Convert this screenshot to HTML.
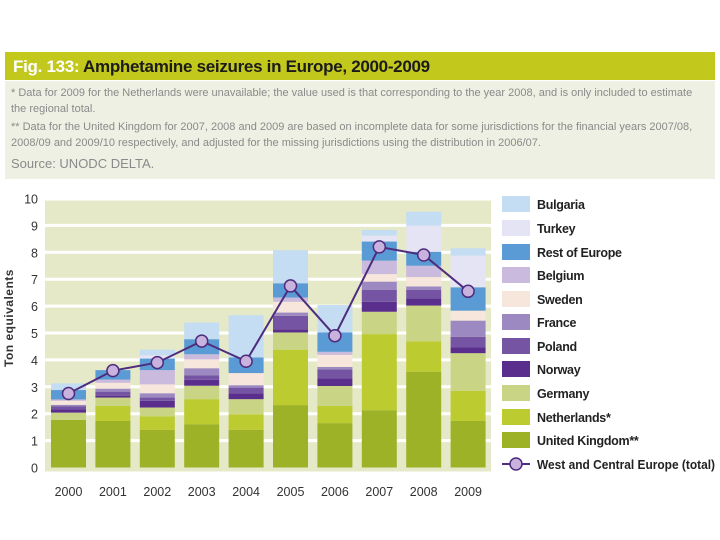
<!DOCTYPE html>
<html><head><meta charset="utf-8">
<style>
body{margin:0;width:720px;height:540px;background:#fff;font-family:"Liberation Sans",sans-serif;overflow:hidden;position:relative}
#hdr{position:absolute;left:5px;top:52px;width:710px;height:28px;background:#c3c81d}
#hdr span{position:absolute;left:8px;top:5px;font-size:17px;font-weight:bold;color:#1b1b1b;letter-spacing:-0.3px}
#notes{position:absolute;left:5px;top:81px;width:710px;height:98px;background:#eef0e3;color:#8a8a8a;font-size:11px;line-height:16px}
</style></head><body>
<div id="hdr"><span><span style="position:static;color:#fff">Fig. 133:</span> Amphetamine seizures in Europe, 2000-2009</span></div>
<div id="notes">
<div style="position:absolute;left:6px;top:4px;width:690px">* Data for 2009 for the Netherlands were unavailable; the value used is that corresponding to the year 2008, and is only included to estimate the regional total.</div>
<div style="position:absolute;left:6px;top:38px;width:690px">** Data for the United Kingdom for 2007, 2008 and 2009 are based on incomplete data for some jurisdictions for the financial years 2007/08, 2008/09 and 2009/10 respectively, and adjusted for the missing jurisdictions using the distribution in 2006/07.</div>
<div style="position:absolute;left:6px;top:75px;font-size:13px">Source: UNODC DELTA.</div>
</div>
<svg id="chart" width="720" height="540" style="position:absolute;left:0;top:0"></svg>
<script>
const years=["2000","2001","2002","2003","2004","2005","2006","2007","2008","2009"];
const seriesNames=["United Kingdom**","Netherlands*","Germany","Norway","Poland","France","Sweden","Belgium","Rest of Europe","Turkey","Bulgaria"];
const uk=[1.77,1.73,1.4,1.61,1.4,2.32,1.65,2.13,3.56,1.73];
const netherlands=[0,0.56,0.5,0.93,0.58,2.06,0.64,2.83,1.13,1.12];
const germany=[0.27,0.31,0.33,0.5,0.56,0.64,0.74,0.83,1.33,1.4];
const norway=[0.12,0.06,0.25,0.22,0.22,0.12,0.29,0.37,0.27,0.21];
const poland=[0.12,0.16,0.12,0.17,0.21,0.5,0.33,0.45,0.32,0.4];
const france=[0.05,0.11,0.16,0.26,0.09,0.12,0.09,0.3,0.12,0.6];
const sweden=[0.15,0.22,0.33,0.33,0.45,0.4,0.45,0.28,0.35,0.37];
const belgium=[0.05,0.12,0.53,0.19,0,0.16,0.11,0.5,0.42,0];
const restEurope=[0.35,0.35,0.43,0.56,0.58,0.53,0.72,0.71,0.52,0.87];
const turkey=[0,0,0.12,0,0,0,0,0.22,0.97,1.18];
const bulgaria=[0.25,0,0.21,0.62,1.57,1.23,1.02,0.21,0.52,0.27];
const totalWCE=[2.75,3.6,3.9,4.7,3.95,6.75,4.9,8.2,7.9,6.55];
const yTicks=[0,1,2,3,4,5,6,7,8,9,10];
const series=[uk,netherlands,germany,norway,poland,france,sweden,belgium,restEurope,turkey,bulgaria];
const colors=["#9eb227","#bccb2f","#c9d585","#5a2e8c","#7554a4","#9d89c2","#f6e6db","#cabadd","#5b9bd5","#e4e4f4","#c4ddf3"];
const slugs=["uk","netherlands","germany","norway","poland","france","sweden","belgium","rest-of-europe","turkey","bulgaria"];
const NS="http://www.w3.org/2000/svg";
const svg=document.getElementById("chart");
const y0=467.5,pu=26.9,x0=68.5,dx=44.4,bw=35;
const Y=v=>y0-v*pu, X=i=>x0+i*dx;
function mk(t,a,p){const e=document.createElementNS(NS,t);for(const k in a)e.setAttribute(k,a[k]);(p||svg).appendChild(e);return e;}
const bg=mk("rect",{x:45,y:Y(10)+2,width:446,height:Y(0)-Y(10)+2,fill:"#e6e9c8"});


yTicks.forEach(t=>{
 if(t>0&&t<10){const g=mk("line",{x1:45,x2:491,y1:Y(t),y2:Y(t),stroke:"#fff","stroke-width":3});
 
 }
 const l=mk("text",{x:38,y:Y(t)+5,"text-anchor":"end","font-size":12.5,fill:"#333"});l.textContent=t;
 
 
});
const yt=mk("text",{x:0,y:0,transform:"translate(13,318) rotate(-90)","text-anchor":"middle","font-size":12,"font-weight":"bold",fill:"#333","letter-spacing":"0.5"});yt.textContent="Ton equivalents";


years.forEach((yr,i)=>{
 let c=0;
 series.forEach((s,k)=>{const v=s[i];if(v>0){const r=mk("rect",{x:X(i)-bw/2,y:Y(c+v),width:bw,height:v*pu,fill:colors[k]});
 
 }c+=v;});
 const t=mk("text",{x:X(i),y:496,"text-anchor":"middle","font-size":12.5,fill:"#333"});t.textContent=yr;
 
 
});
const pl=mk("polyline",{points:totalWCE.map((v,i)=>X(i)+","+Y(v)).join(" "),fill:"none",stroke:"#4e2c7e","stroke-width":2});


totalWCE.forEach((v,i)=>{const c=mk("circle",{cx:X(i),cy:Y(v),r:6,fill:"#c9b3de",stroke:"#4e2c7e","stroke-width":1.5});
 
 });
// legend
const legY=[204,228,252,275,299,322,346,369,393,417,440];
for(let k=0;k<11;k++){
 const idx=10-k;const yy=legY[k];
 const r=mk("rect",{x:502,y:yy-8,width:28,height:16,fill:colors[idx]});
 
 
 const t=mk("text",{x:537,y:yy+5,"font-size":12.5,"font-weight":"bold",fill:"#222","letter-spacing":"-0.3"});t.textContent=seriesNames[idx];
 
 
}
const ll=mk("line",{x1:502,x2:530,y1:464,y2:464,stroke:"#4e2c7e","stroke-width":2});


const lc=mk("circle",{cx:516,cy:464,r:6,fill:"#c9b3de",stroke:"#4e2c7e","stroke-width":1.5});


const lt=mk("text",{x:537,y:469,"font-size":12.5,"font-weight":"bold",fill:"#222",textLength:178,lengthAdjust:"spacingAndGlyphs"});lt.textContent="West and Central Europe (total)";


</script>
</body></html>
